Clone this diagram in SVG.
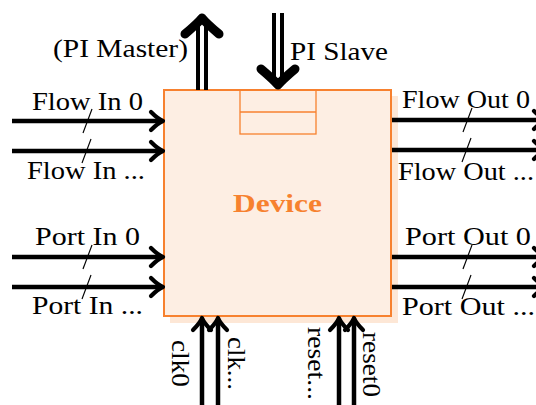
<svg xmlns="http://www.w3.org/2000/svg" xmlns:xlink="http://www.w3.org/1999/xlink" width="536" height="405" viewBox="0 0 536 405">
<style>
.lbl{font-family:"Liberation Serif","Times New Roman",serif;font-size:25px;fill:#000}
.dev{font-family:"Liberation Serif","Times New Roman",serif;font-size:25px;font-weight:bold;fill:#f7812f}
.shaft{stroke:#000;stroke-width:4.5;fill:none}
.dshaft{stroke:#000;stroke-width:4;fill:none}
.head{stroke:#000;stroke-width:4.2;fill:none;stroke-linecap:round;stroke-linejoin:round}
.bighead{stroke:#000;stroke-width:9;fill:none;stroke-linecap:round;stroke-linejoin:round}
.slash{stroke:#000;stroke-width:1.2}
.box{fill:#fdeee3;stroke:#f7812f;stroke-width:2}
.inner{fill:none;stroke:#f7812f;stroke-width:1.3}
</style>
<defs>
<path id="h" class="head" d="M-12,-9 Q-5,-2 0,0 Q-5,2 -12,9"/>
<path id="bh" class="bighead" d="M-16,-17 Q-5,-4 0,0 Q-5,4 -16,17"/>
</defs>
<g id="device">
<rect x="170" y="96" width="228" height="227" fill="#fde7d6"/>
<rect class="box" x="164" y="90" width="227" height="226"/>
<rect class="inner" x="240" y="90" width="76" height="44"/>
<line class="inner" x1="240" y1="112" x2="316" y2="112"/>
<text class="dev" x="233" y="212" textLength="89" lengthAdjust="spacingAndGlyphs">Device</text>
</g>
<g id="connectors">
<line class="shaft" x1="12" y1="121" x2="161" y2="121"/><use xlink:href="#h" transform="translate(163,121)"/>
<line class="shaft" x1="12" y1="151" x2="161" y2="151"/><use xlink:href="#h" transform="translate(163,151)"/>
<line class="shaft" x1="12" y1="257" x2="161" y2="257"/><use xlink:href="#h" transform="translate(163,257)"/>
<line class="shaft" x1="12" y1="287" x2="161" y2="287"/><use xlink:href="#h" transform="translate(163,287)"/>
<line class="slash" x1="83" y1="133" x2="92" y2="109"/>
<line class="slash" x1="82" y1="163" x2="91" y2="139"/>
<line class="slash" x1="83" y1="269" x2="92" y2="245"/>
<line class="slash" x1="82" y1="299" x2="91" y2="275"/>
<line class="shaft" x1="392" y1="120" x2="545" y2="120"/><use xlink:href="#h" transform="translate(546,120)"/>
<line class="shaft" x1="392" y1="150" x2="545" y2="150"/><use xlink:href="#h" transform="translate(546,150)"/>
<line class="shaft" x1="392" y1="257" x2="545" y2="257"/><use xlink:href="#h" transform="translate(546,257)"/>
<line class="shaft" x1="392" y1="287" x2="545" y2="287"/><use xlink:href="#h" transform="translate(546,287)"/>
<line class="slash" x1="463" y1="132" x2="472" y2="108"/>
<line class="slash" x1="462" y1="162" x2="471" y2="138"/>
<line class="slash" x1="463" y1="269" x2="472" y2="245"/>
<line class="slash" x1="462" y1="299" x2="471" y2="275"/>
<line class="dshaft" x1="198" y1="90" x2="198" y2="24"/>
<line class="dshaft" x1="206" y1="90" x2="206" y2="24"/>
<use xlink:href="#bh" transform="translate(202,18) rotate(-90)"/>
<line class="dshaft" x1="274" y1="13" x2="274" y2="78"/>
<line class="dshaft" x1="282" y1="13" x2="282" y2="78"/>
<use xlink:href="#bh" transform="translate(278,85) rotate(90)"/>
<line class="shaft" x1="202" y1="405" x2="202" y2="321"/><use xlink:href="#h" transform="translate(202,318) rotate(-90)"/>
<line class="shaft" x1="218" y1="405" x2="218" y2="321"/><use xlink:href="#h" transform="translate(218,318) rotate(-90)"/>
<line class="shaft" x1="339" y1="405" x2="339" y2="321"/><use xlink:href="#h" transform="translate(339,318) rotate(-90)"/>
<line class="shaft" x1="354" y1="405" x2="354" y2="321"/><use xlink:href="#h" transform="translate(354,318) rotate(-90)"/>
</g>
<g id="labels">
<text class="lbl" x="53" y="57" textLength="135" lengthAdjust="spacingAndGlyphs">(PI Master)</text>
<text class="lbl" x="290" y="60" textLength="98" lengthAdjust="spacingAndGlyphs">PI Slave</text>
<text class="lbl" x="32" y="110" textLength="111" lengthAdjust="spacingAndGlyphs">Flow In 0</text>
<text class="lbl" x="27" y="179" textLength="118" lengthAdjust="spacingAndGlyphs">Flow In ...</text>
<text class="lbl" x="35" y="245" textLength="105" lengthAdjust="spacingAndGlyphs">Port In 0</text>
<text class="lbl" x="32" y="314" textLength="111" lengthAdjust="spacingAndGlyphs">Port In ...</text>
<text class="lbl" x="402" y="108" textLength="128" lengthAdjust="spacingAndGlyphs">Flow Out 0</text>
<text class="lbl" x="398" y="180" textLength="136" lengthAdjust="spacingAndGlyphs">Flow Out ...</text>
<text class="lbl" x="405" y="245" textLength="126" lengthAdjust="spacingAndGlyphs">Port Out 0</text>
<text class="lbl" x="402" y="315" textLength="133" lengthAdjust="spacingAndGlyphs">Port Out ...</text>
<text class="lbl" transform="translate(172,340) rotate(90)" textLength="47" lengthAdjust="spacingAndGlyphs">clk0</text>
<text class="lbl" transform="translate(228,337) rotate(90)" textLength="53" lengthAdjust="spacingAndGlyphs">clk...</text>
<text class="lbl" transform="translate(308,327) rotate(90)" textLength="73" lengthAdjust="spacingAndGlyphs">reset...</text>
<text class="lbl" transform="translate(363,332) rotate(90)" textLength="65" lengthAdjust="spacingAndGlyphs">reset0</text>
</g>
</svg>
